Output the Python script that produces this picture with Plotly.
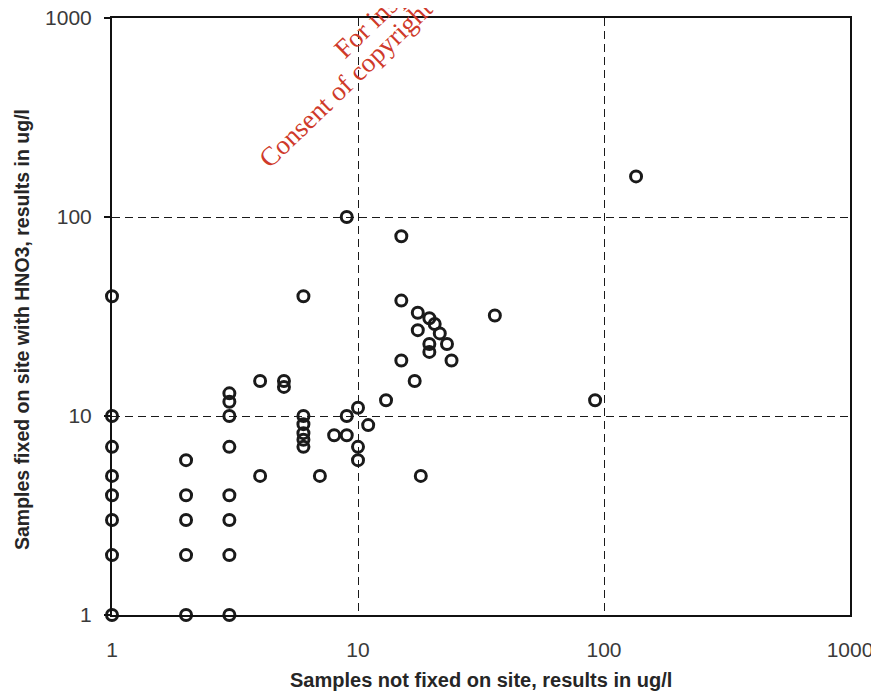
import plotly.graph_objects as go

# Data (ug/l)
not_fixed = [1, 1, 1, 1, 1, 1, 1, 1,
             2, 2, 2, 2, 2,
             3, 3, 3, 3, 3, 3, 3, 3,
             4, 4,
             5, 5,
             6, 6, 6, 6, 6, 6,
             7, 8, 9, 9, 9,
             10, 10, 10, 11, 13,
             15, 15, 15, 17, 17.5, 17.5, 18,
             19.5, 19.5, 19.5, 20.5, 21.5, 23, 24,
             36, 92, 135]
fixed_hno3 = [1, 2, 3, 4, 5, 7, 10, 40,
              1, 2, 3, 4, 6,
              1, 2, 3, 4, 7, 10, 11.8, 13,
              5, 15,
              14, 15,
              7, 7.6, 8.2, 9.1, 10, 40,
              5, 8, 8, 10, 100,
              6, 7, 11, 9, 12,
              19, 38, 80, 15, 27, 33, 5,
              21, 23, 31, 29, 26, 23, 19,
              32, 12, 160]

x_title = "Samples not fixed on site, results in ug/l"
y_title = "Samples fixed on site with HNO3, results in ug/l"
tick_vals = [1, 10, 100, 1000]
tick_text = ["1", "10", "100", "1000"]
watermark_1 = "For inspection purposes only."
watermark_2 = "Consent of copyright owner required for any other use."

fig = go.Figure()
fig.add_trace(go.Scatter(
    x=not_fixed, y=fixed_hno3, mode="markers",
    marker=dict(symbol="circle-open", size=11, color="#1a1a1a", line=dict(width=3)),
    cliponaxis=False, showlegend=False,
))

axis_common = dict(
    type="log", range=[0, 3], automargin=False,
    tickvals=tick_vals, ticktext=tick_text, ticklabeloverflow="allow",
    showline=True, linecolor="#111", linewidth=2, mirror=True,
    showgrid=True, gridcolor="#1a1a1a", griddash="8px,5px", gridwidth=1.4,
    zeroline=False,
    tickfont=dict(family="Liberation Sans, Arial", size=21, color="#3a3a3a"),
)

x_title_font = dict(family="Liberation Sans, Arial", size=20, color="#262626")
y_title_font = dict(family="Liberation Sans, Arial", size=19.5, color="#262626")
wm_font = dict(family="Liberation Serif, Times New Roman", size=27, color="#cf3a2a")

fig.update_layout(
    width=879, height=696,
    margin=dict(l=104, r=37, t=10, b=89),
    paper_bgcolor="white", plot_bgcolor="white",
    xaxis=dict(axis_common, ticks="", ticklabelstandoff=15),
    yaxis=dict(axis_common, ticks="outside", ticklen=6, tickcolor="#111", tickwidth=2,
               ticklabelstandoff=8),
    annotations=[
        dict(text="<b>" + x_title + "</b>", xref="paper", yref="paper",
             x=0.5, y=-0.109, xanchor="center", yanchor="middle",
             showarrow=False, font=x_title_font),
        dict(text="<b>" + y_title + "</b>", xref="paper", yref="paper",
             x=-0.122, y=0.479, xanchor="center", yanchor="middle",
             showarrow=False, textangle=-90, font=y_title_font),
        dict(text=watermark_1, xref="paper", yref="paper",
             x=0.462, y=1.126, xanchor="center", yanchor="middle",
             showarrow=False, textangle=-44, font=wm_font),
        dict(text=watermark_2, xref="paper", yref="paper",
             x=0.4955, y=1.104, xanchor="center", yanchor="middle",
             showarrow=False, textangle=-44, font=wm_font),
    ],
)

fig.write_html("out.html")
